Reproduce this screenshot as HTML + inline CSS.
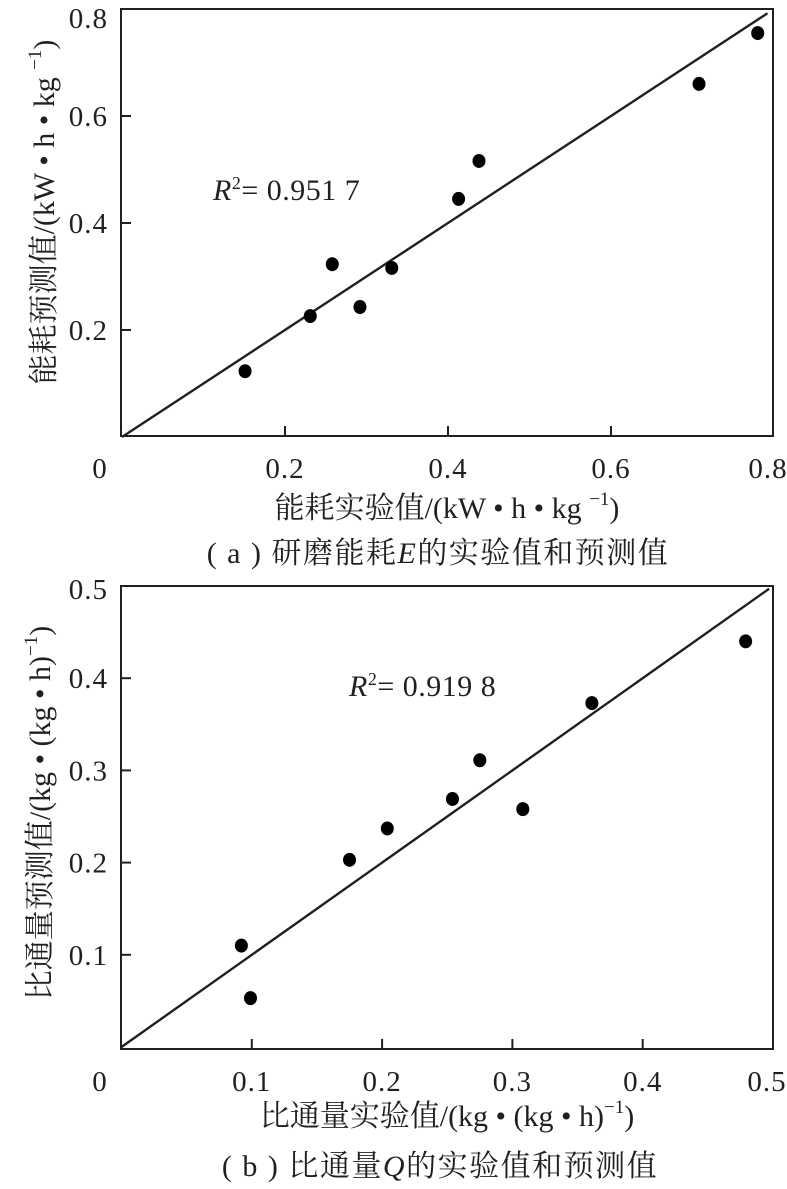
<!DOCTYPE html>
<html><head><meta charset="utf-8">
<style>
html,body{margin:0;padding:0;background:#fff;}
svg{display:block;}
text{font-family:"Liberation Serif","Noto Serif CJK SC","Noto Sans CJK SC",serif;fill:#231f20;}
</style></head>
<body>
<svg id="fig" width="787" height="1189" viewBox="0 0 787 1189" xmlns="http://www.w3.org/2000/svg"></svg>
<script>
// Chart (a) data
const aExp = [0.151, 0.231, 0.258, 0.292, 0.331, 0.413, 0.438, 0.708, 0.780];
const aPred = [0.123, 0.226, 0.323, 0.243, 0.316, 0.445, 0.516, 0.660, 0.755];
const aTicks = [0.2, 0.4, 0.6];
const aTickLabels = ["0", "0.2", "0.4", "0.6", "0.8"];
const aYTickLabels = ["0.2", "0.4", "0.6", "0.8"];
// Chart (b) data
const bExp = [0.092, 0.099, 0.175, 0.204, 0.254, 0.275, 0.308, 0.361, 0.479];
const bPred = [0.110, 0.053, 0.203, 0.237, 0.269, 0.311, 0.258, 0.373, 0.440];
const bTicks = [0.1, 0.2, 0.3, 0.4];
const bTickLabels = ["0", "0.1", "0.2", "0.3", "0.4", "0.5"];
const bYTickLabels = ["0.1", "0.2", "0.3", "0.4", "0.5"];

const NS = "http://www.w3.org/2000/svg";
const svg = document.getElementById("fig");
function mk(tag, attrs, parent, txt){
  const e = document.createElementNS(NS, tag);
  for (const k in attrs) e.setAttribute(k, attrs[k]);
  if (txt !== undefined) e.textContent = txt;
  (parent || svg).appendChild(e);
  return e;
}

function chart(cfg){
  const g = mk("g", {});
  
  
  const sx = v => cfg.x0 + (v / cfg.max) * (cfg.x1 - cfg.x0);
  const sy = v => cfg.y0 - (v / cfg.max) * (cfg.y0 - cfg.y1);
  const box = mk("rect", {x: cfg.bl, y: cfg.bt, width: cfg.br - cfg.bl, height: cfg.bb - cfg.bt, fill: "none", stroke: "#231f20", "stroke-width": 2}, g);
  
  
  cfg.ticks.forEach(t => {
    const tx = mk("line", {x1: sx(t), x2: sx(t), y1: cfg.bb, y2: cfg.bb - 10, stroke: "#231f20", "stroke-width": 2}, g);
    
    
    const ty = mk("line", {x1: cfg.bl, x2: cfg.bl + 10, y1: sy(t), y2: sy(t), stroke: "#231f20", "stroke-width": 2}, g);
    
    
  });
  const n = cfg.xLabels.length;
  cfg.xLabels.forEach((l, i) => {
    const v = i * cfg.step;
    let xx = sx(v);
    if (i === 0) xx = 100;
    if (i === n - 1) xx = sx(v) - 6;
    const t = mk("text", {x: xx, y: cfg.xlY, "font-size": 29, "letter-spacing": 1, "text-anchor": "middle"}, g, l);
    
    
  });
  const m = cfg.yLabels.length;
  cfg.yLabels.forEach((l, i) => {
    const v = (i + 1) * cfg.step;
    const off = (i === m - 1) ? cfg.topOff : 10;
    const t = mk("text", {x: 108, y: sy(v) + off, "font-size": 29, "letter-spacing": 1, "text-anchor": "end"}, g, l);
    
    
  });
  const ln = mk("line", {x1: sx(0), y1: sy(0), x2: sx(cfg.lineEnd), y2: sy(cfg.lineEnd), stroke: "#231f20", "stroke-width": 2.4}, g);
  
  
  cfg.xs.forEach((xv, i) => {
    const c = mk("ellipse", {cx: sx(xv), cy: sy(cfg.ys[i]), rx: 6.5, ry: 7, fill: "#000"}, g);
    
    
  });
  const r = mk("text", {x: cfg.rx, y: cfg.ry, "font-size": 30, "letter-spacing": 0.5}, g);
  
  
  mk("tspan", {"font-style": "italic"}, r, "R");
  mk("tspan", {"font-size": 18, dy: -11}, r, "2");
  mk("tspan", {dy: 11}, r, "= " + cfg.r2);
  const yt = mk("text", {x: 0, y: 0, "font-size": 30, "text-anchor": "middle", transform: `translate(${cfg.ytX},${cfg.ytY}) rotate(-90)`}, g);
  
  
  yt.appendChild(document.createTextNode(cfg.yTitle));
  mk("tspan", {"font-size": 19, dy: -13}, yt, "−1");
  mk("tspan", {dy: 13}, yt, ")");
  const xt = mk("text", {x: cfg.xtX, y: cfg.xtY, "font-size": 30, "text-anchor": "middle"}, g);
  
  
  xt.appendChild(document.createTextNode(cfg.xTitle));
  mk("tspan", {"font-size": 19, dy: -13}, xt, "−1");
  mk("tspan", {dy: 13}, xt, ")");
  const cap = mk("text", {x: cfg.capX, y: cfg.capY, "font-size": 30, "letter-spacing": 1.5, "text-anchor": "middle"}, g);
  
  
  cap.appendChild(document.createTextNode(cfg.cap1));
  mk("tspan", {"font-style": "italic"}, cap, cfg.capVar);
  cap.appendChild(document.createTextNode(cfg.cap2));
}

chart({name: "chart-a-energy", bl: 121, br: 773, bt: 9, bb: 436,
  x0: 122, x1: 774, y0: 437, y1: 9, max: 0.8, step: 0.2, lineEnd: 0.792,
  ticks: aTicks, xLabels: aTickLabels, yLabels: aYTickLabels, xlY: 478, topOff: 19,
  xs: aExp, ys: aPred, rx: 213, ry: 200, r2: "0.951 7",
  ytX: 54, ytY: 212, yTitle: "能耗预测值/(kW • h • kg ",
  xtX: 447, xtY: 518, xTitle: "能耗实验值/(kW • h • kg ",
  capX: 438, capY: 563, cap1: "( a ) 研磨能耗", capVar: "E", cap2: "的实验值和预测值"});

chart({name: "chart-b-flux", bl: 121, br: 773, bt: 586, bb: 1049,
  x0: 121.5, x1: 773, y0: 1047, y1: 586, max: 0.5, step: 0.1, lineEnd: 0.497,
  ticks: bTicks, xLabels: bTickLabels, yLabels: bYTickLabels, xlY: 1091, topOff: 13,
  xs: bExp, ys: bPred, rx: 349, ry: 696, r2: "0.919 8",
  ytX: 50, ytY: 813, yTitle: "比通量预测值/(kg • (kg • h)",
  xtX: 447, xtY: 1126, xTitle: "比通量实验值/(kg • (kg • h)",
  capX: 440, capY: 1176, cap1: "( b ) 比通量", capVar: "Q", cap2: "的实验值和预测值"});
</script>
</body></html>
